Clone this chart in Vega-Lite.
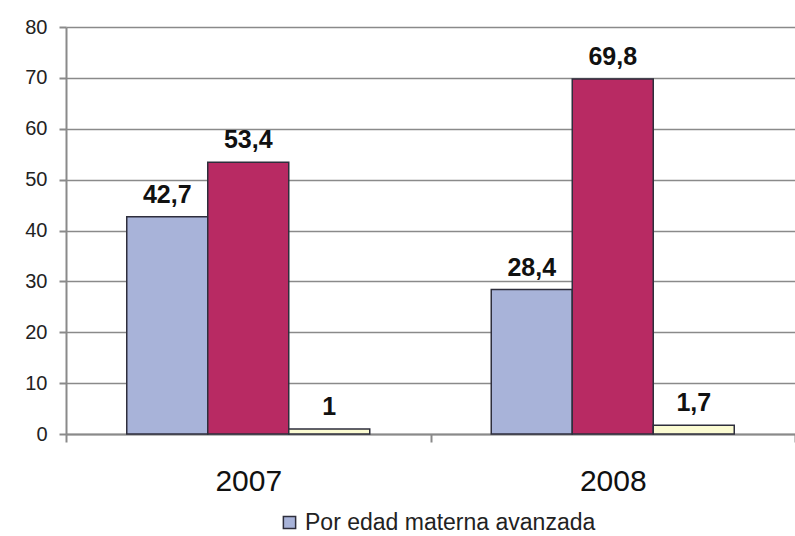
{
  "$schema": "https://vega.github.io/schema/vega-lite/v6.json",
  "width": 729,
  "height": 407,
  "autosize": {"type": "none"},
  "padding": {"left": 66, "top": 27, "right": 0, "bottom": 102},
  "background": "white",
  "config": {
    "locale": {"number": {"decimal": ",", "thousands": ".", "grouping": [3], "currency": ["", " €"]}},
    "view": {"stroke": null},
    "font": "Liberation Sans"
  },
  "data": {
    "values": [
      {"anio": "2007", "serie": "Por edad materna avanzada", "valor": 42.7},
      {"anio": "2007", "serie": "Serie 2", "valor": 53.4},
      {"anio": "2007", "serie": "Serie 3", "valor": 1},
      {"anio": "2008", "serie": "Por edad materna avanzada", "valor": 28.4},
      {"anio": "2008", "serie": "Serie 2", "valor": 69.8},
      {"anio": "2008", "serie": "Serie 3", "valor": 1.7}
    ]
  },
  "encoding": {
    "x": {
      "field": "anio",
      "type": "nominal",
      "scale": {"paddingInner": 0, "paddingOuter": 0},
      "axis": {
        "title": null,
        "labelAngle": 0,
        "labelFontSize": 30,
        "labelColor": "#111111",
        "labelPadding": 24,
        "domainColor": "#8a8a8a",
        "domainWidth": 2,
        "ticks": true,
        "tickBand": "extent",
        "tickSize": 8,
        "tickColor": "#8a8a8a",
        "tickWidth": 2,
        "grid": false
      }
    },
    "xOffset": {
      "field": "serie",
      "type": "nominal",
      "sort": ["Por edad materna avanzada", "Serie 2", "Serie 3"],
      "scale": {"paddingInner": 0, "paddingOuter": 0.75}
    },
    "y": {
      "field": "valor",
      "type": "quantitative",
      "scale": {"domain": [0, 80], "nice": false},
      "axis": {
        "title": null,
        "values": [0, 10, 20, 30, 40, 50, 60, 70, 80],
        "labelFontSize": 20,
        "labelColor": "#222222",
        "labelPadding": 12,
        "tickSize": 7,
        "tickColor": "#8a8a8a",
        "tickWidth": 2,
        "domainColor": "#8a8a8a",
        "domainWidth": 2,
        "grid": true,
        "gridColor": "#8a8a8a",
        "gridWidth": 1.5
      }
    }
  },
  "layer": [
    {
      "mark": {"type": "bar", "stroke": "#2e2e3c", "strokeWidth": 1.5},
      "encoding": {
        "color": {
          "field": "serie",
          "type": "nominal",
          "scale": {
            "domain": ["Por edad materna avanzada", "Serie 2", "Serie 3"],
            "range": ["#a8b3d9", "#b82a63", "#fbfbd2"]
          },
          "legend": {
            "title": null,
            "values": ["Por edad materna avanzada"],
            "orient": "none",
            "legendX": 212,
            "legendY": 484,
            "symbolType": "square",
            "symbolSize": 150,
            "symbolStrokeColor": "#2e2e3c",
            "symbolStrokeWidth": 1.5,
            "labelFontSize": 23,
            "labelColor": "#222222",
            "labelOffset": 4,
            "labelLimit": 0
          }
        }
      }
    },
    {
      "mark": {"type": "text", "fontSize": 25, "fontWeight": "bold", "color": "#111111", "baseline": "alphabetic", "dy": -14},
      "encoding": {
        "text": {"field": "valor", "type": "quantitative", "format": ".1~f"}
      }
    }
  ]
}
